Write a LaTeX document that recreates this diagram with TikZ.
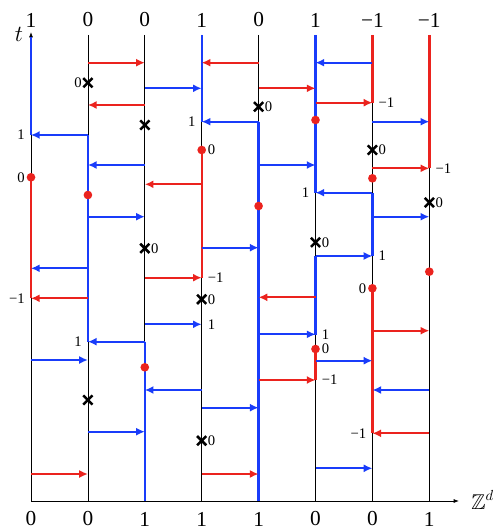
\documentclass[tikz,border=0pt]{standalone}
\usepackage{amssymb}
\usepackage{fontspec}
\setmainfont{Liberation Serif}
\usetikzlibrary{arrows.meta,shapes.misc}
\definecolor{vblue}{RGB}{25,60,250}
\definecolor{vred}{RGB}{235,35,30}

\begin{document}
\begin{tikzpicture}[x=0.75pt,y=-0.75pt]
  \tikzstyle{axis}=[black,line width=0.6pt]
  \tikzstyle{bseg}=[vblue,line width=1.8pt]
  \tikzstyle{rseg}=[vred,line width=1.8pt]
  \tikzstyle{barr}=[vblue,line width=1.4pt,-{Latex[length=6.5pt,width=6pt]}]
  \tikzstyle{rarr}=[vred,line width=1.4pt,-{Latex[length=6.5pt,width=6pt]}]
  \tikzstyle{val}=[font=\fontsize{16}{16}\selectfont,inner sep=0pt]
  \tikzstyle{lab}=[font=\fontsize{11}{11}\selectfont,inner sep=0pt]
  \tikzstyle{dot}=[circle,fill=vred,inner sep=0pt,minimum size=6.5pt]
  \tikzstyle{kill}=[cross out,draw=black,line width=1.9pt,inner sep=0pt,minimum size=5pt]

  \useasboundingbox (0,0) rectangle (496,530);

  \foreach \i in {0,...,7}
    \coordinate (c\i) at ({31+56.9*\i},0);
  \coordinate (xend) at (459,501);

  \foreach \i in {1,...,7}
    \draw[axis] (c\i |- 0,35) -- (c\i |- 0,501);
  \draw[axis,-{Latex[length=4pt,width=3pt]}] (c0 |- 0,501) -- (c0 |- 0,32);
  \draw[axis,-{Latex[length=4pt,width=3pt]}] (c0 |- 0,501) -- (xend);

  \foreach \c/\a/\b in {0/37/135,1/135/341.7,2/341.7/501,3/35/121.7,4/121.7/501,5/35/192.7,5/256/335,6/192.7/256}
    \draw[bseg] (c\c |- 0,\a) -- (c\c |- 0,\b);
  \foreach \c/\a/\b in {0/177.3/298.3,3/150/277.7,5/349/380,6/35/102.7,6/288.3/433.3,7/35/168.3}
    \draw[rseg] (c\c |- 0,\a) -- (c\c |- 0,\b);

  \foreach \a/\b/\y in {1/0/135,2/3/88.3,2/1/165,4/3/121.7,4/5/165,6/5/62.7,6/7/121.7,1/2/216.7,1/0/268.3,2/3/324.3,2/1/341.7,3/4/247.7,4/5/334.3,6/5/192.7,5/6/256,6/7/216.7,0/1/360,1/2/431.7,3/2/390,3/4/407.7,5/6/360.7,5/6/468.3,7/6/390}
    \draw[barr] (c\a |- 0,\y) -- (c\b |- 0,\y);
  \foreach \a/\b/\y in {1/2/62.7,2/1/105,4/3/62.7,4/5/88.3,5/6/102.7,6/7/168.3,1/0/298.3,3/2/184.3,2/3/277.7,5/4/297.3,6/7/330.7,0/1/474,3/4/474,4/5/380,7/6/433.3}
    \draw[rarr] (c\a |- 0,\y) -- (c\b |- 0,\y);

  \foreach \c/\y [count=\n] in {1/82.7,2/125,4/106.7,6/150,2/248.3,3/299.3,5/242.3,7/202.5,1/400,3/440.7}
    \node[kill] (k\n) at (c\c |- 0,\y) {};
  \foreach \c/\y [count=\n] in {0/177.3,3/150,5/120,6/178.3,1/195,4/206,6/288.3,7/271.7,5/349,2/367.3}
    \node[dot] (d\n) at (c\c |- 0,\y) {};

  \foreach \c/\y/\t [count=\n] in {1/82.7/0,0/177.3/0,0/135/1,3/121.7/1,0/298.3/−1,1/341.7/1,5/192.7/1,6/288.3/0,6/433.3/−1}
    \node[lab,left=4.5pt] (ll\n) at (c\c |- 0,\y) {\t};
  \foreach \c/\y/\t [count=\n] in {4/106.7/0,6/150/0,2/248.3/0,3/299.3/0,5/242.3/0,7/202.5/0,3/440.7/0,3/150/0,5/349/0,6/102.7/−1,7/168.3/−1,3/277.7/−1,3/324.3/1,6/256/1,5/334.3/1,5/380/−1}
    \node[lab,right=4.5pt] (rl\n) at (c\c |- 0,\y) {\t};

  \foreach \v [count=\i from 0] in {1,0,0,1,0,1,−1,−1}
    \node[val] (top\i) at (c\i |- 0,20) {\v};
  \foreach \v [count=\i from 0] in {0,0,1,1,1,0,0,1}
    \node[val] (bot\i) at (c\i |- 0,519) {\v};

  \node[val] (tlab) at (19,34) {$t$};
  \node[val,anchor=west] (zlab) at (471,500) {$\mathbb{Z}^d$};
\end{tikzpicture}
\end{document}
